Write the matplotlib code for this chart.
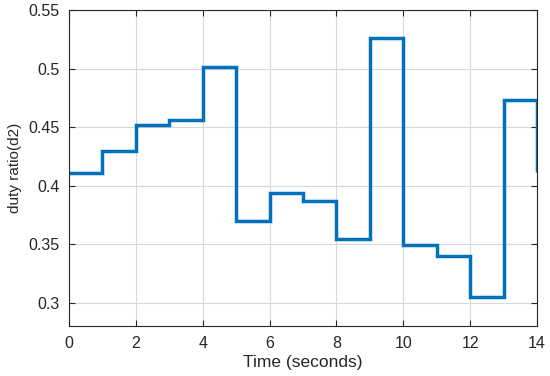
import matplotlib
matplotlib.use("Agg")
import matplotlib.pyplot as plt

plt.rcParams['font.family'] = ['Liberation Sans', 'DejaVu Sans']

# step signal, one sample per second (held until next sample)
time_s = [0, 1, 2, 3, 4, 5, 6, 7, 8, 9, 10, 11, 12, 13, 14]
duty_d2 = [0.411, 0.430, 0.452, 0.456, 0.501, 0.370, 0.394, 0.387,
           0.354, 0.526, 0.349, 0.340, 0.305, 0.473, 0.412]

fig = plt.figure(figsize=(5.5, 3.76), dpi=100)
ax = fig.add_axes([0.1255, 0.133, 0.851, 0.84])

# hold last value until x=14, then drop to final sample (MATLAB stairs look)
ax.step(time_s[:-1] + [time_s[-1]], duty_d2[:-2] + [duty_d2[-2], duty_d2[-2]],
        where='post', color='#0072BD', lw=2.5, solid_joinstyle='miter')
ax.plot([time_s[-1], time_s[-1]], [duty_d2[-2], duty_d2[-1]],
        color='#0072BD', lw=2.5, solid_capstyle='butt')

ax.set_xlim(0, 14)
ax.set_ylim(0.28, 0.55)
ax.set_xticks(range(0, 15, 2))
ax.set_yticks([0.3, 0.35, 0.4, 0.45, 0.5, 0.55])
ax.set_yticklabels(['0.3', '0.35', '0.4', '0.45', '0.5', '0.55'])
ax.grid(True, color='#d8d8d8', lw=0.8)
ax.set_axisbelow(True)
ax.tick_params(direction='in', top=True, right=True, labelsize=11.5,
               length=4, width=0.8, colors='#262626', pad=7)
for s in ax.spines.values():
    s.set_color('#262626')
    s.set_linewidth(0.8)

ax.set_xlabel('Time (seconds)', fontsize=12.5, color='#262626', labelpad=3)
ax.set_ylabel('duty ratio(d2)', fontsize=11, color='#262626', labelpad=4)

fig.savefig('out.png', dpi=100)
